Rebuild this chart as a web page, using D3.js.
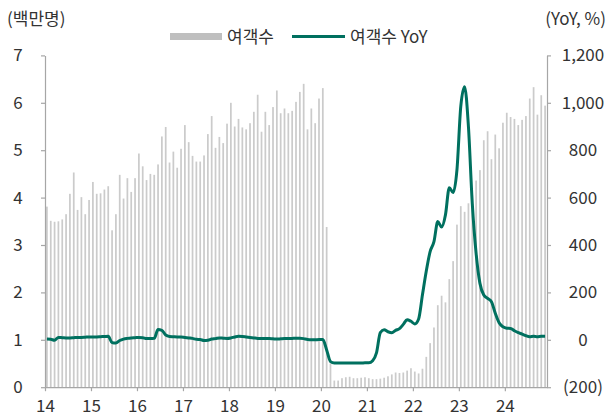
<!DOCTYPE html>
<html>
<head>
<meta charset="utf-8">
<script src="https://cdn.jsdelivr.net/npm/d3@7"></script>
<style>
  html, body { margin: 0; padding: 0; background: #fff; }
  svg { display: block; }
  text { font-family: "Noto Sans CJK KR", "Noto Sans", sans-serif; fill: #333; }
</style>
</head>
<body>
<svg id="chart" width="612" height="416"></svg>
<script>
// ---- data (monthly, 2014-01 .. 2024-11) ----
const yearLabels = ["14","15","16","17","18","19","20","21","22","23","24"];

// passengers, million
const passengers = [
  // 2014
  3.81,3.51,3.49,3.50,3.54,3.65,4.08,4.53,3.74,4.01,3.65,3.95,
  // 2015
  4.33,4.08,4.09,4.17,4.24,3.31,3.65,4.48,3.98,4.41,4.12,4.41,
  // 2016
  4.93,4.66,4.37,4.50,4.48,4.70,5.29,5.49,4.74,4.97,4.63,5.03,
  // 2017
  5.53,5.17,4.88,4.76,4.76,4.89,5.34,5.72,5.05,5.28,5.15,5.56,
  // 2018
  6.00,5.50,5.66,5.48,5.44,5.57,5.81,6.17,5.39,5.81,5.53,5.91,
  // 2019
  6.26,5.78,5.88,5.78,5.83,6.02,6.23,6.40,5.44,5.88,5.57,6.09,
  // 2020
  6.31,3.38,0.50,0.14,0.14,0.19,0.21,0.22,0.19,0.19,0.20,0.21,
  // 2021
  0.19,0.17,0.17,0.18,0.20,0.23,0.27,0.31,0.30,0.31,0.35,0.40,
  // 2022
  0.33,0.29,0.39,0.64,0.93,1.26,1.73,1.93,1.79,2.28,2.66,3.43,
  // 2023
  3.82,3.70,3.88,4.05,4.36,4.58,5.21,5.40,4.81,5.33,5.04,5.58,
  // 2024
  5.79,5.70,5.66,5.53,5.64,5.72,6.09,6.33,5.75,6.16,5.94
];

// YoY, %
const yoy = [
  // 2014
  3,2,-2,10,9,8,8,9,10,10,11,12,
  // 2015
  12,12,13,14,15,-12,-14,-3,3,6,8,9,
  // 2016
  10,9,5,5,6,43,40,20,14,13,12,12,
  // 2017
  10,8,6,2,1,-3,-2,3,5,8,7,6,
  // 2018
  8,12,15,14,12,10,8,6,6,5,5,4,
  // 2019
  3,4,5,5,6,7,7,5,1,0,0,1,
  // 2020
  1,-43,-92,-98,-98,-98,-98,-98,-98,-98,-98,-97,
  // 2021
  -97,-88,-55,30,42,34,30,40,47,65,85,78,
  // 2022
  67,88,190,290,372,414,499,476,527,642,621,717,
  // 2023
  985,1068,899,576,365,238,189,175,161,112,72,55,
  // 2024
  49,48,38,30,24,17,13,15,13,15,15
];

const leftTicks = [0,1,2,3,4,5,6,7];
const rightTicks = [-200,0,200,400,600,800,1000,1200];

// ---- layout ----
const L = 45, R = 547, T = 55.4, B = 387.2;
const n = passengers.length;
const svg = d3.select("#chart");

const x = d3.scaleBand().domain(d3.range(n)).range([L, R])
  .paddingInner(0.55).paddingOuter(0.275);
const xt = d3.scaleLinear().domain([0, n]).range([L, R]);
const yL = d3.scaleLinear().domain([0, 7]).range([B, T]);
const yR = d3.scaleLinear().domain([-200, 1200]).range([B, T]);

// bars
svg.append("g").selectAll("rect").data(passengers).join("rect")
  .attr("x", (d, i) => x(i))
  .attr("width", x.bandwidth())
  .attr("y", d => yL(d))
  .attr("height", d => yL(0) - yL(d))
  .attr("fill", "#cbcbcb");

// axes
const axisColor = "#a6a6a6";
const gL = svg.append("g").attr("transform", `translate(${L},0)`)
  .call(d3.axisLeft(yL).tickValues(leftTicks).tickSize(4).tickSizeOuter(0).tickFormat(d3.format("d")));
const gR = svg.append("g").attr("transform", `translate(${R},0)`)
  .call(d3.axisRight(yR).tickValues(rightTicks).tickSize(4).tickSizeOuter(0)
    .tickFormat(d => d < 0 ? `(${d3.format(",")(-d)})` : d3.format(",")(d)));
const gB = svg.append("g").attr("transform", `translate(0,${B})`)
  .call(d3.axisBottom(xt).tickValues(d3.range(0, n, 12)).tickSize(4).tickSizeOuter(0)
    .tickFormat((d, i) => yearLabels[i]));

[gL, gR, gB].forEach(g => {
  g.select(".domain").attr("stroke", axisColor).attr("stroke-width", 1.2);
  g.selectAll(".tick line").attr("stroke", axisColor).attr("stroke-width", 1.2);
  g.selectAll("text").attr("font-size", 17).attr("fill", "#333")
    .style("font-family", '"Noto Sans CJK KR", "Noto Sans", sans-serif');
});
gL.selectAll(".tick text").attr("x", -27).attr("text-anchor", "middle");
gR.selectAll(".tick text").attr("x", 36).attr("text-anchor", "middle");
gB.selectAll(".tick text").attr("y", 13);

// line
const line = d3.line()
  .x((d, i) => x(i) + x.bandwidth() / 2)
  .y(d => yR(d))
  .curve(d3.curveMonotoneX);
svg.append("path").datum(yoy)
  .attr("d", line)
  .attr("fill", "none")
  .attr("stroke", "#00705f")
  .attr("stroke-width", 3)
  .attr("stroke-linejoin", "round");

// unit labels
svg.append("text").attr("x", 7).attr("y", 25).attr("font-size", 17).text("(백만명)");
svg.append("text").attr("x", 606).attr("y", 25).attr("font-size", 17)
  .attr("text-anchor", "end").text("(YoY, %)");

// legend
svg.append("rect").attr("x", 170).attr("y", 33).attr("width", 52).attr("height", 7).attr("fill", "#bfbfbf");
svg.append("text").attr("x", 227).attr("y", 43).attr("font-size", 17).text("여객수");
svg.append("line").attr("x1", 292).attr("x2", 345).attr("y1", 36.5).attr("y2", 36.5)
  .attr("stroke", "#00705f").attr("stroke-width", 3);
svg.append("text").attr("x", 350).attr("y", 43).attr("font-size", 17).text("여객수 YoY");
</script>
</body>
</html>
